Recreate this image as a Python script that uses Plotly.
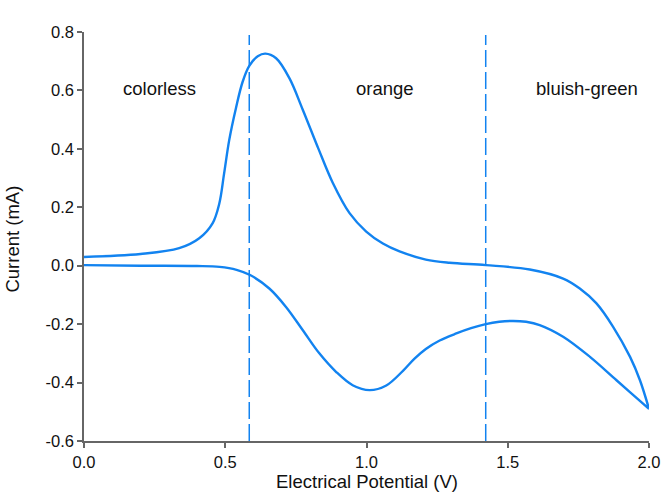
import plotly.graph_objects as go

# Forward (anodic) scan 0 -> 2.0 V
fwd_v = [0.0, 0.2, 0.337, 0.408, 0.455, 0.479, 0.496, 0.514, 0.538, 0.561, 0.585, 0.615,
         0.642, 0.68, 0.727, 0.774, 0.83, 0.88, 0.94, 0.999, 1.058, 1.117, 1.21, 1.294,
         1.422, 1.578, 1.696, 1.755, 1.814, 1.873, 1.933, 1.968, 2.0]
fwd_i = [0.03, 0.04, 0.06, 0.094, 0.145, 0.213, 0.316, 0.43, 0.54, 0.628, 0.684, 0.717,
         0.726, 0.71, 0.642, 0.535, 0.40, 0.285, 0.18, 0.117, 0.076, 0.049, 0.021, 0.01,
         0.002, -0.013, -0.044, -0.078, -0.129, -0.209, -0.312, -0.392, -0.49]

# Reverse (cathodic) scan 2.0 -> 0 V
rev_v = [2.0, 1.885, 1.791, 1.696, 1.613, 1.565, 1.519, 1.47, 1.422, 1.37, 1.318, 1.259,
         1.21, 1.17, 1.129, 1.07, 1.011, 0.951, 0.892, 0.833, 0.774, 0.715, 0.656, 0.588,
         0.54, 0.48, 0.4, 0.2, 0.0]
rev_i = [-0.49, -0.392, -0.312, -0.243, -0.203, -0.192, -0.189, -0.192, -0.2, -0.214, -0.232, -0.256,
         -0.285, -0.318, -0.36, -0.41, -0.426, -0.409, -0.363, -0.30, -0.22, -0.141, -0.078, -0.032,
         -0.014, -0.004, -0.001, 0.0, 0.002]

marker_v = [0.585, 1.422]
marker_labels = ["0.6 V", "1.4 V"]

region_x = [0.266, 1.067, 1.78]
region_labels = ["colorless", "orange", "bluish-green"]

x_ticks = [0.0, 0.5, 1.0, 1.5, 2.0]
x_tick_text = ["0.0", "0.5", "1.0", "1.5", "2.0"]
y_ticks = [-0.6, -0.4, -0.2, 0.0, 0.2, 0.4, 0.6, 0.8]
y_tick_text = ["-0.6", "-0.4", "-0.2", "0.0", "0.2", "0.4", "0.6", "0.8"]

blue = "#1283F0"
font_family = "Liberation Sans, Arial, sans-serif"
txt = "#111111"

fig = go.Figure()
fig.add_trace(go.Scatter(x=fwd_v + rev_v, y=fwd_i + rev_i, mode="lines",
                         line=dict(color=blue, width=2.4, shape="spline", smoothing=1.0),
                         hoverinfo="skip", showlegend=False))

for v, lab in zip(marker_v, marker_labels):
    fig.add_shape(type="line", x0=v, x1=v, y0=-0.6, y1=0.79, xref="x", yref="y",
                  line=dict(color=blue, width=1.5, dash="17px,5px"))
    fig.add_annotation(x=v, y=0.834, xref="x", yref="y", text=lab, showarrow=False,
                       xshift=7, font=dict(size=18.5, color=txt))

for x, lab in zip(region_x, region_labels):
    fig.add_annotation(x=x, y=0.605, xref="x", yref="y", text=lab, showarrow=False,
                       font=dict(size=18.5, color=txt))

# axis titles
fig.add_annotation(x=0.5, y=-0.1002, xref="paper", yref="paper", text="Electrical Potential (V)",
                   showarrow=False, xanchor="center", yanchor="middle", font=dict(size=18.5, color=txt))
fig.add_annotation(x=-0.1257, y=0.495, xref="paper", yref="paper", text="Current (mA)",
                   showarrow=False, textangle=-90, xanchor="center", yanchor="middle",
                   font=dict(size=18.5, color=txt))

axis_common = dict(showline=True, linecolor="#666", linewidth=1.5, ticks="outside",
                   ticklen=5, tickcolor="#666", tickwidth=1.5, showgrid=False, zeroline=False,
                   tickfont=dict(size=16.5, color=txt), automargin=False, tickmode="array")

fig.update_layout(
    width=662, height=496,
    margin=dict(l=84, r=13, t=32, b=55),
    paper_bgcolor="white", plot_bgcolor="white",
    font=dict(family=font_family, color=txt),
    xaxis=dict(range=[0, 2.0], tickvals=x_ticks, ticktext=x_tick_text, **axis_common),
    yaxis=dict(range=[-0.6, 0.8], tickvals=y_ticks, ticktext=y_tick_text, **axis_common),
)

fig.write_html("out.html")
